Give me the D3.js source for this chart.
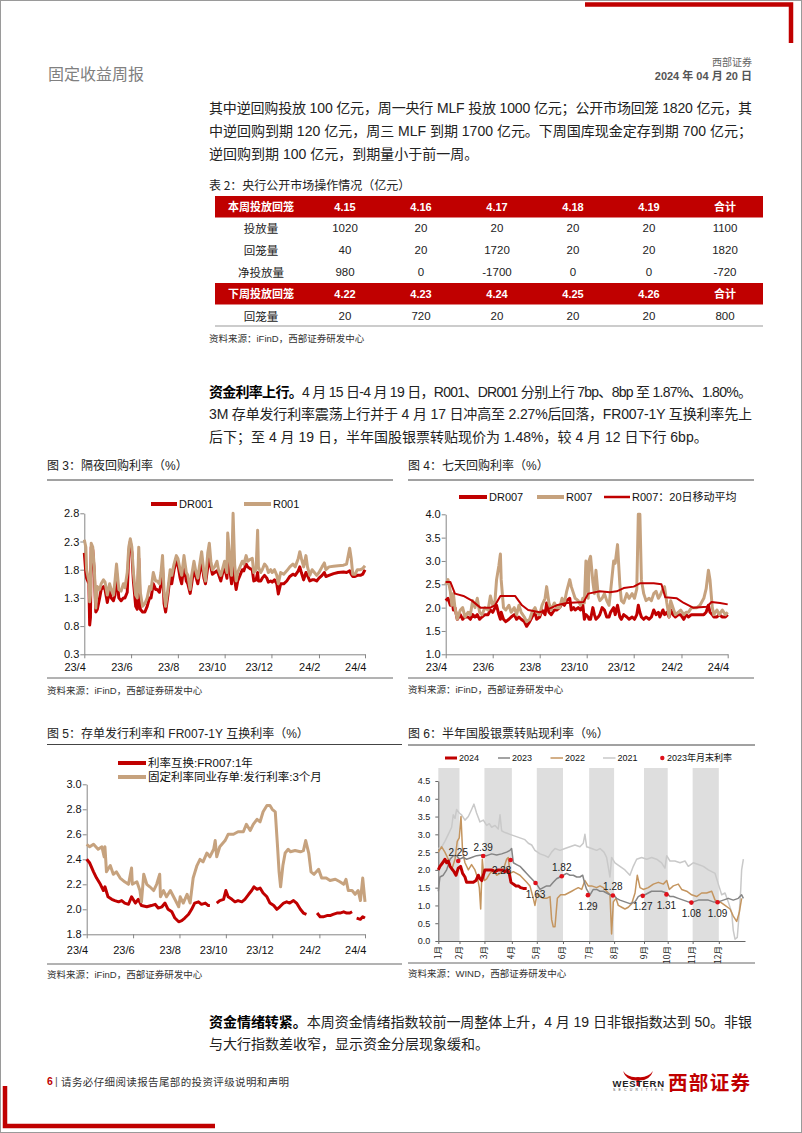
<!DOCTYPE html>
<html><head><meta charset="utf-8">
<script src="https://cdn.jsdelivr.net/npm/d3@7"></script>
<style>body{margin:0;background:#fff}svg{display:block}</style>
</head><body>
<svg id="page" width="802" height="1133"></svg>
<script>
// ---------------- DATA ----------------
const para1 = [
  "其中逆回购投放 100 亿元，周一央行 MLF 投放 1000 亿元；公开市场回笼 1820 亿元，其",
  "中逆回购到期 120 亿元，周三 MLF 到期 1700 亿元。下周国库现金定存到期 700 亿元；",
  "逆回购到期 100 亿元，到期量小于前一周。"
];
const para2 = [
  [{t:"资金利率上行。",b:true},{t:"4 月 15 日-4 月 19 日，R001、DR001 分别上行 7bp、8bp 至 1.87%、1.80%。"}],
  [{t:"3M 存单发行利率震荡上行并于 4 月 17 日冲高至 2.27%后回落，FR007-1Y 互换利率先上"}],
  [{t:"后下；至 4 月 19 日，半年国股银票转贴现价为 1.48%，较 4 月 12 日下行 6bp。"}]
];
const para3 = [
  [{t:"资金情绪转紧。",b:true},{t:"本周资金情绪指数较前一周整体上升，4 月 19 日非银指数达到 50。非银"}],
  [{t:"与大行指数差收窄，显示资金分层现象缓和。"}]
];
const tableTitle = "表 2：央行公开市场操作情况（亿元）";
const tableHead1 = ["本周投放回笼","4.15","4.16","4.17","4.18","4.19","合计"];
const tableRows1 = [
  ["投放量",1020,20,20,20,20,1100],
  ["回笼量",40,20,1720,20,20,1820],
  ["净投放量",980,0,-1700,0,0,-720]
];
const tableHead2 = ["下周投放回笼","4.22","4.23","4.24","4.25","4.26","合计"];
const tableRows2 = [["回笼量",20,720,20,20,20,800]];

// Charts 3-5: day offsets from 2023-04-19
const xTickDays = [0,61,122,183,244,306,366];
const xTickLabels = ["23/4","23/6","23/8","23/10","23/12","24/2","24/4"];

const r001 = [[0,2.33],[2,2.2],[3,1.8],[6,1.6],[7,1.23],[8,1.35],[9,2.27],[11,2.2],[13,1.85],[15,1.12],[17,1.5],[20,1.45],[22,1.55],[25,1.62],[27,1.58],[30,1.35],[33,1.55],[35,1.45],[38,1.35],[40,1.6],[42,1.9],[45,1.45],[48,1.42],[51,1.55],[53,1.48],[56,1.75],[58,2.2],[60,2.35],[62,2.2],[64,1.75],[67,1.35],[69,1.3],[71,2.2],[73,1.4],[76,1.15],[79,1.2],[82,1.3],[85,1.5],[87,1.45],[90,1.75],[93,1.6],[95,1.6],[98,1.55],[100,1.75],[102,2.05],[104,1.4],[106,1.15],[109,1.45],[112,1.8],[114,1.7],[117,1.9],[120,2.05],[122,2.0],[125,1.8],[127,1.7],[130,2.05],[133,1.75],[135,1.7],[138,1.45],[140,1.7],[143,1.95],[145,1.8],[148,1.65],[150,1.85],[153,2.12],[156,1.75],[158,1.6],[161,2.1],[163,2.27],[165,1.95],[167,1.8],[170,1.85],[173,1.95],[175,1.8],[178,1.7],[180,1.8],[183,1.95],[186,1.75],[187,2.45],[189,2.1],[192,1.7],[194,2.8],[196,1.9],[198,1.6],[200,1.75],[203,1.85],[206,1.95],[208,1.9],[211,2.05],[213,1.95],[216,1.98],[219,2.0],[221,1.75],[224,1.8],[226,2.5],[227,1.85],[230,1.75],[232,1.8],[235,1.9],[238,1.85],[240,1.75],[243,1.8],[245,1.75],[248,1.8],[251,1.7],[253,1.55],[256,1.75],[260,1.72],[264,1.78],[268,1.85],[272,1.9],[275,1.85],[279,2.0],[281,2.12],[283,2.0],[286,1.85],[289,2.05],[291,1.85],[294,1.7],[297,1.8],[300,1.75],[303,1.7],[306,1.75],[310,1.85],[313,1.92],[315,1.8],[319,1.85],[325,1.86],[331,1.87],[338,1.88],[342,1.9],[346,2.18],[348,2.0],[350,1.72],[353,1.72],[356,1.8],[360,1.8],[363,1.82],[366,1.87]];
const dr001 = [[0,2.1],[2,1.75],[3,1.65],[6,1.55],[7,0.82],[8,0.95],[9,2.2],[11,2.15],[13,1.75],[15,1.05],[17,1.1],[20,1.3],[22,1.45],[25,1.5],[27,1.45],[30,1.22],[33,1.45],[35,1.3],[38,1.25],[40,1.35],[42,1.75],[45,1.3],[48,1.25],[51,1.3],[53,1.3],[56,1.4],[58,2.1],[60,2.3],[62,2.1],[64,1.6],[67,1.15],[69,1.1],[71,2.0],[73,1.1],[76,1.05],[79,1.05],[82,1.15],[85,1.3],[87,1.3],[90,1.55],[93,1.45],[95,1.45],[98,1.4],[100,1.55],[102,1.85],[104,1.2],[106,1.05],[109,1.35],[112,1.7],[114,1.55],[117,1.8],[120,1.95],[122,1.9],[125,1.65],[127,1.55],[130,1.9],[133,1.6],[135,1.55],[138,1.38],[140,1.55],[143,1.85],[145,1.7],[148,1.55],[150,1.72],[153,1.95],[156,1.65],[158,1.55],[161,1.85],[163,2.0],[165,1.85],[167,1.72],[170,1.75],[173,1.78],[175,1.72],[178,1.6],[180,1.72],[183,1.85],[186,1.65],[187,2.0],[189,1.9],[192,1.55],[194,1.9],[196,1.62],[198,1.45],[200,1.6],[203,1.7],[206,1.8],[208,1.78],[211,1.9],[213,1.85],[216,1.82],[219,1.8],[221,1.6],[224,1.62],[226,1.75],[227,1.6],[230,1.6],[232,1.65],[235,1.7],[238,1.65],[240,1.58],[243,1.6],[245,1.58],[248,1.62],[251,1.55],[253,1.37],[256,1.55],[260,1.55],[264,1.6],[268,1.68],[272,1.72],[275,1.7],[279,1.78],[281,1.85],[283,1.75],[286,1.62],[289,1.75],[291,1.7],[294,1.6],[297,1.62],[300,1.62],[303,1.6],[306,1.65],[310,1.7],[313,1.75],[315,1.68],[319,1.7],[325,1.73],[331,1.75],[338,1.76],[342,1.75],[346,1.78],[348,1.72],[350,1.68],[353,1.68],[356,1.7],[360,1.7],[363,1.72],[366,1.8]];

const r007 = [[0,2.5],[3,2.6],[6,2.35],[8,2.05],[10,2.3],[12,2.0],[15,1.75],[19,1.95],[22,2.0],[25,1.8],[29,1.9],[32,1.85],[35,2.15],[38,2.0],[41,2.2],[44,1.9],[47,1.85],[51,2.0],[55,1.95],[58,2.25],[61,2.05],[64,2.15],[66,2.6],[69,2.9],[71,3.15],[72,2.6],[75,2.0],[78,1.95],[82,2.05],[85,1.9],[89,2.0],[92,1.85],[95,2.05],[98,1.9],[102,1.8],[105,1.7],[109,1.75],[112,1.9],[116,2.0],[118,1.9],[122,1.85],[125,2.05],[129,2.2],[131,2.45],[134,2.1],[137,1.95],[141,2.1],[144,2.0],[148,2.0],[151,2.2],[154,2.1],[157,2.35],[161,2.6],[163,2.45],[166,2.3],[168,2.2],[172,2.15],[175,2.05],[178,2.2],[180,2.1],[182,3.0],[185,2.2],[186,3.0],[188,3.1],[191,2.55],[193,2.3],[195,2.8],[198,2.25],[200,2.15],[203,2.2],[206,2.3],[209,2.15],[212,2.05],[214,2.35],[218,3.0],[220,2.95],[223,3.35],[226,2.5],[228,2.15],[231,2.1],[235,2.3],[238,2.2],[242,2.3],[245,2.2],[248,2.4],[250,4.0],[252,4.0],[254,2.6],[257,2.3],[260,2.15],[264,2.2],[267,2.15],[270,2.3],[273,2.35],[276,2.2],[278,2.25],[282,2.4],[284,2.45],[287,2.1],[290,1.8],[292,2.15],[295,2.0],[298,1.85],[302,1.9],[305,1.95],[309,1.85],[312,1.9],[315,1.9],[319,2.0],[322,2.0],[326,2.0],[330,2.05],[335,2.2],[338,2.4],[341,2.8],[343,2.6],[346,2.0],[348,1.85],[352,1.95],[355,1.85],[359,1.95],[363,1.85],[366,1.9]];
const dr007 = [[0,2.15],[3,2.2],[6,2.05],[8,2.2],[10,1.95],[12,2.0],[15,1.75],[19,1.85],[22,1.75],[25,1.8],[29,1.8],[32,1.75],[35,1.85],[38,1.8],[41,1.85],[44,1.75],[47,1.8],[51,1.85],[55,1.85],[58,1.95],[61,1.9],[64,2.0],[66,2.05],[69,1.85],[71,1.75],[72,1.9],[75,1.75],[78,1.7],[82,1.75],[85,1.8],[89,1.85],[92,1.75],[95,1.8],[98,1.75],[102,1.7],[105,1.6],[109,1.7],[112,1.8],[116,1.9],[118,1.75],[122,1.8],[125,1.95],[129,1.85],[131,2.1],[134,1.9],[137,1.85],[141,1.95],[144,1.95],[148,2.0],[151,2.1],[154,2.05],[157,2.15],[161,2.2],[163,1.95],[166,2.0],[168,1.95],[172,2.0],[175,1.95],[178,2.05],[180,1.75],[182,1.85],[185,1.8],[186,1.75],[188,1.75],[191,2.0],[193,1.85],[195,1.75],[198,1.8],[200,1.85],[203,2.0],[206,1.95],[209,1.8],[212,1.8],[214,1.9],[218,2.0],[220,1.85],[223,2.05],[226,1.8],[228,1.75],[231,1.85],[235,1.8],[238,1.75],[242,1.8],[245,1.75],[248,1.85],[250,2.05],[252,1.9],[254,1.8],[257,1.75],[260,1.8],[264,1.75],[267,1.8],[270,1.95],[273,1.85],[276,1.9],[278,1.8],[282,1.95],[284,1.85],[287,1.9],[290,1.8],[292,1.95],[295,1.85],[298,1.8],[302,1.85],[305,1.85],[309,1.75],[312,1.85],[315,1.8],[319,1.85],[322,1.85],[326,1.85],[330,1.85],[335,1.85],[338,1.9],[341,2.05],[343,1.9],[346,1.85],[348,1.8],[352,1.8],[355,1.85],[359,1.8],[363,1.8],[366,1.85]];
const r007ma20 = [[0,2.55],[6,2.55],[12,2.3],[23,2.25],[34,2.15],[45,2.0],[58,2.0],[64,2.05],[71,2.25],[90,2.25],[99,2.05],[107,1.95],[122,1.9],[131,1.95],[144,2.05],[157,2.1],[179,2.12],[185,2.3],[200,2.35],[213,2.33],[222,2.35],[231,2.42],[244,2.45],[252,2.52],[270,2.52],[280,2.5],[285,2.22],[300,2.2],[309,2.1],[321,2.0],[339,2.02],[345,2.12],[356,2.1],[366,2.07]];

const fr007_1y = [[0,2.4],[4,2.37],[9,2.3],[13,2.25],[18,2.2],[22,2.15],[24,2.18],[28,2.1],[33,2.08],[37,2.07],[42,2.06],[46,2.07],[50,2.05],[55,2.04],[59,2.1],[64,2.05],[68,2.08],[72,2.03],[79,2.02],[85,2.03],[90,2.04],[94,2.01],[99,2.02],[103,2.05],[107,2.0],[112,1.98],[116,1.93],[121,1.9],[125,1.91],[129,1.93],[134,1.96],[138,2.0],[142,2.05],[147,2.06],[151,2.04],[156,2.05],[160,2.03],[162,2.03],[166,null],[171,2.05],[175,2.07],[180,2.08],[183,2.15],[186,2.1],[191,2.08],[195,2.06],[199,2.07],[204,2.06],[208,2.08],[213,2.12],[217,2.15],[220,2.18],[224,2.16],[228,2.17],[232,2.13],[237,2.1],[241,2.05],[246,2.03],[250,2.0],[254,2.02],[259,2.05],[263,2.06],[267,2.05],[272,2.07],[276,2.05],[281,2.0],[285,1.97],[289,1.96],[296,null],[303,1.97],[307,1.94],[311,1.94],[316,1.95],[320,1.95],[324,1.96],[329,1.97],[333,1.97],[338,1.98],[342,1.97],[346,1.97],[349,1.98],[352,null],[355,1.93],[360,1.92],[363,1.94],[366,1.93]];
const cd3m = [[0,2.52],[4,2.5],[9,2.52],[15,2.48],[20,2.5],[23,2.42],[24,2.5],[26,2.3],[31,2.35],[35,2.28],[39,2.3],[44,2.25],[50,2.22],[55,2.2],[59,2.33],[60,2.2],[66,2.22],[70,2.15],[72,2.06],[75,2.28],[79,2.2],[83,2.18],[88,2.15],[92,2.2],[96,2.28],[97,2.1],[101,2.15],[105,2.1],[110,2.15],[116,2.08],[121,2.02],[123,2.1],[127,2.05],[132,2.12],[136,2.05],[140,2.25],[145,2.35],[149,2.4],[153,2.38],[158,2.45],[162,2.42],[167,2.48],[169,2.55],[171,2.42],[175,2.5],[182,2.55],[186,2.6],[193,2.6],[199,2.62],[206,2.62],[210,2.68],[215,2.63],[219,2.68],[224,2.72],[228,2.7],[232,2.78],[237,2.83],[241,2.83],[244,2.8],[248,2.78],[251,2.5],[253,2.3],[255,2.18],[258,2.35],[261,2.45],[265,2.48],[268,2.46],[274,2.47],[281,2.46],[285,2.47],[288,2.55],[292,2.45],[295,2.3],[299,2.28],[305,2.32],[309,2.25],[315,2.25],[320,2.23],[327,2.24],[333,2.22],[338,2.2],[341,2.24],[344,2.15],[349,2.15],[353,2.12],[357,2.15],[360,2.07],[363,2.25],[366,2.06]];

// Chart 6: trading-day index within year
const monthLabels = ["1月","2月","3月","4月","5月","6月","7月","8月","9月","10月","11月","12月"];
const monthTradingDays = [17,20,22,20,21,21,20,24,19,20,21,21];
const bill2021 = [[0,2.6],[2.7,2.65],[5.3,2.8],[8,3.0],[10.7,3.2],[12,3.55],[13.4,3.45],[14.7,3.7],[16.8,3.6],[18.7,3.55],[21.4,3.4],[24.1,3.5],[26.7,3.7],[28.6,3.85],[30.7,3.6],[33.4,3.35],[36.1,3.4],[38.8,3.25],[40.9,3.3],[42.8,3.2],[45.5,3.25],[48.1,3.15],[49.5,3.55],[50.8,3.1],[53.5,3.05],[57.5,3.0],[61.5,2.95],[65.5,2.9],[69.5,2.85],[72.2,2.75],[74.9,2.7],[77.5,2.55],[81.6,2.45],[85.6,2.4],[88.2,2.35],[90.9,2.5],[93.6,2.6],[97.6,2.55],[101.6,2.6],[105.6,2.65],[109.6,2.7],[113.6,2.65],[116.3,2.75],[117.6,3.0],[119,2.65],[123,2.6],[127,2.55],[129.7,2.6],[132.9,2.5],[135,2.35],[137.7,1.8],[139,2.35],[141.7,2.2],[145.7,2.1],[149.7,2.0],[153.7,1.85],[156.4,2.1],[159.1,2.3],[163.1,2.35],[167.1,2.3],[171.1,2.35],[175.1,2.3],[179.1,2.2],[181.8,2.05],[183.2,2.4],[185.8,2.25],[189.8,2.25],[193.9,2.2],[197.9,2.25],[200.5,2.1],[204.5,2.2],[208.6,2.15],[212.6,2.1],[216.6,2.0],[222,1.9],[224.6,1.6],[227.3,1.3],[230,1.35],[232.6,1.1],[235.3,0.8],[236.6,0.3],[238,0.05],[239.8,0.1],[241.4,0.8],[242.5,1.4],[243.3,2.0],[244.7,2.3]];
const bill2022 = [[0,2.5],[2.7,2.65],[5.3,2.5],[8,2.3],[10.7,2.0],[13.4,2.3],[15.2,2.8],[16.8,2.9],[18.2,3.5],[19.5,2.5],[21.4,2.2],[24.1,2.0],[26.7,2.15],[29.4,2.0],[31.3,1.8],[32.9,1.5],[34,0.9],[35.3,2.3],[36.9,1.7],[38.8,1.75],[41.4,1.9],[44.1,2.0],[46.8,1.85],[49.5,1.9],[52.1,2.0],[54.8,2.3],[56.1,2.35],[57.5,1.9],[60.2,1.95],[62.8,1.9],[65.5,1.85],[68.2,1.75],[70.9,1.65],[73.5,1.55],[76.2,1.2],[77.5,1.0],[79.4,1.35],[81.6,1.25],[84.2,1.2],[86.9,1.2],[89.6,1.25],[90.9,0.6],[92.2,0.4],[93.6,0.4],[95.5,1.2],[98.1,1.3],[101.6,1.3],[104.3,1.35],[107,1.4],[109.6,1.45],[112.3,1.5],[115,1.45],[117.6,1.7],[120.3,1.55],[123,1.55],[127,1.5],[129.7,1.55],[132.4,1.5],[135,1.4],[137.7,1.3],[139,0.2],[140.4,1.1],[142.5,1.2],[144.4,1.0],[147.1,0.95],[149.7,0.9],[152.4,0.95],[155.1,1.05],[157.8,1.35],[159.6,1.85],[161.8,1.5],[164.4,1.45],[168.4,1.5],[172.5,1.6],[176.5,1.65],[180.5,1.6],[183.2,1.7],[185.3,1.45],[188.5,1.55],[192.5,1.6],[195.2,1.45],[199.2,1.4],[203.2,1.3],[207.2,1.25],[211.2,1.35],[215.2,1.35],[219.3,1.4],[222,1.15],[226,1.1],[230,1.0],[234,0.9],[236.6,0.7],[239.3,0.55],[241.4,0.8],[243.3,1.2]];
const bill2023 = [[0,1.4],[1.3,1.8],[4,1.85],[6.7,2.0],[9.4,2.3],[12,2.4],[14.7,2.4],[16.8,2.3],[20,2.35],[22.7,2.3],[26.7,2.35],[30.7,2.4],[34.8,2.42],[38.8,2.4],[42.8,2.45],[46.8,2.42],[50.8,2.45],[54.8,2.5],[57.5,2.55],[58.8,2.6],[60.2,2.2],[62.8,2.15],[65.5,2.1],[68.2,2.0],[70.9,1.9],[73.5,1.8],[76.2,1.7],[78.9,1.6],[81.6,1.45],[84.2,1.5],[86.9,1.55],[89.6,1.55],[92.2,1.65],[94.9,1.75],[97.6,1.8],[100.3,1.85],[102.9,1.9],[105.6,1.85],[108.3,1.85],[111,1.8],[113.6,1.8],[115.8,1.85],[117.6,1.6],[119,1.45],[121.7,1.3],[124.3,1.45],[127,1.45],[129.7,1.4],[132.4,1.4],[135,1.35],[137.7,1.3],[140.4,1.3],[143,1.2],[145.7,1.15],[149.7,1.1],[153.7,1.05],[157.8,1.1],[160.4,1.25],[163.1,1.3],[165.8,1.3],[168.4,1.35],[171.1,1.4],[175.1,1.4],[179.1,1.4],[183.2,1.35],[185.8,1.25],[188.5,1.25],[192.5,1.2],[196.5,1.15],[200.5,1.1],[204.5,1.1],[208.6,1.15],[212.6,1.15],[216.6,1.15],[220.6,1.1],[224.6,1.1],[228.6,1.15],[232.6,1.2],[236.6,1.15],[240.6,1.2],[243.3,1.3],[244.7,1.2]];
const bill2024 = [[0,2.0],[1.3,2.1],[3.5,2.2],[5.3,2.3],[6.7,2.2],[8,2.25],[9.4,2.1],[11.5,2.0],[12.6,1.95],[14.2,1.85],[16,2.05],[17.9,2.1],[19.5,1.9],[21.4,1.8],[22.7,1.65],[25.4,1.65],[28.1,1.65],[30.2,1.7],[32.1,1.85],[33.4,1.75],[34.8,1.7],[36.1,1.85],[37.4,2.0],[40.1,2.0],[42.8,2.0],[45.5,1.95],[48.1,2.0],[50.8,2.0],[53.5,1.95],[55.3,2.0],[56.9,1.9],[58.3,1.65],[60.2,1.6],[62.3,1.55],[64.2,1.55],[66,1.5],[68.2,1.48],[70.9,1.48]];
const monthEnd2023 = [2.25,2.39,2.28,1.63,1.82,1.29,1.28,1.27,1.31,1.08,1.09];

// ---------------- DRAW ----------------
const svg = d3.select("#page");
const RED = "#c00000", TAN = "#c6a27e";
const F = "'Liberation Sans','Noto Sans CJK SC',sans-serif";
const FC = "'Noto Sans CJK SC','Liberation Sans',sans-serif";

function txt(parent, x, y, s, o = {}) {
  const t = parent.append("text").attr("x", x).attr("y", y)
    .attr("dominant-baseline", "central")
    .attr("font-family", o.ff || F).attr("font-size", o.fs || 12)
    .attr("fill", o.fill || "#333").attr("text-anchor", o.anchor || "start");
  if (o.bold) t.attr("font-weight", "bold");
  if (o.len) t.attr("textLength", o.len).attr("lengthAdjust", "spacing");
  if (Array.isArray(s)) s.forEach(p => { const ts = t.append("tspan").text(p.t); if (p.b) ts.attr("font-weight", "bold").attr("fill", o.boldFill || "#000"); });
  else t.text(s);
  return t;
}

// page frame and decorations
svg.append("rect").attr("x", 0.5).attr("y", 0.5).attr("width", 801).attr("height", 1132)
  .attr("fill", "none").attr("stroke", "#9a9a9a");
svg.append("path").attr("d", "M585,4.5H791V43").attr("fill", "none").attr("stroke", RED).attr("stroke-width", 4.5);
svg.append("path").attr("d", "M5,1086V1126H215").attr("fill", "none").attr("stroke", RED).attr("stroke-width", 4.5);

// header
txt(svg, 48, 73, "固定收益周报", {fs: 16, fill: "#808080", ff: FC});
txt(svg, 752, 61, "西部证券", {fs: 10, fill: "#666", anchor: "end", ff: FC});
txt(svg, 752, 76, "2024 年 04 月 20 日", {fs: 11, fill: "#555", anchor: "end", bold: true});

// paragraph 1
const p1y = [108, 131, 154];
para1.forEach((l, i) => txt(svg, 209, p1y[i], l, {fs: 14, fill: "#222", len: i < 2 ? 543 : null}));

// table
txt(svg, 209, 184, tableTitle, {fs: 12, fill: "#222", ff: FC});
const colX = [261, 345, 421, 497, 573, 649, 725];
function headRow(y, cells) {
  svg.append("rect").attr("x", 215).attr("y", y - 10.5).attr("width", 548).attr("height", 21.5).attr("fill", RED);
  cells.forEach((c, i) => txt(svg, colX[i], y, c, {fs: 11, fill: "#fff", bold: true, anchor: "middle"}));
}
function bodyRow(y, cells) {
  cells.forEach((c, i) => txt(svg, colX[i], y, String(c), {fs: 11.5, fill: "#222", anchor: "middle", ff: i === 0 ? FC : F}));
}
headRow(206.5, tableHead1);
[228, 250, 271.5].forEach((y, i) => bodyRow(y, tableRows1[i]));
headRow(293.5, tableHead2);
bodyRow(316, tableRows2[0]);
svg.append("line").attr("x1", 215).attr("x2", 763).attr("y1", 326).attr("y2", 326).attr("stroke", "#999");
txt(svg, 209, 338, "资料来源：iFinD，西部证券研发中心", {fs: 9.5, fill: "#333"});

// paragraph 2
const p2y = [392, 414, 437];
para2.forEach((l, i) => txt(svg, 209, p2y[i], l, {fs: 14, fill: "#222", len: i < 2 ? 543 : null}));

// ---- chart helpers ----
function dayDate(d) { return new Date(2023, 3, 19 + d); }
function frame(x0, x1, titleY, lineY, bottomY, srcY, title, src) {
  txt(svg, x0, titleY, title, {fs: 12, fill: "#222"});
  svg.append("line").attr("x1", x0).attr("x2", x1).attr("y1", lineY).attr("y2", lineY).attr("stroke", "#444");
  svg.append("line").attr("x1", x0).attr("x2", x1).attr("y1", bottomY).attr("y2", bottomY).attr("stroke", "#666");
  txt(svg, x0, srcY, src, {fs: 9.5, fill: "#333"});
}
function timeChart(c) {
  const g = svg.append("g");
  const x = d3.scaleTime().domain([dayDate(0), dayDate(366)]).range([c.x0, c.x1]);
  const y = d3.scaleLinear().domain(c.yDom).range([c.y0, c.y1]);
  const ya = g.append("g").attr("transform", `translate(${c.x0},0)`)
    .call(d3.axisLeft(y).tickValues(c.yTicks).tickFormat(d3.format(".1f")).tickSize(4).tickSizeOuter(0));
  const xa = g.append("g").attr("transform", `translate(0,${c.y0})`)
    .call(d3.axisBottom(x).tickValues(xTickDays.map(dayDate)).tickFormat((d, i) => xTickLabels[i]).tickSize(4).tickSizeOuter(0));
  [ya, xa].forEach(a => {
    a.select(".domain").attr("stroke", "#868686");
    a.selectAll(".tick line").attr("stroke", "#868686");
    a.selectAll("text").attr("font-family", F).attr("font-size", 11).attr("fill", "#111");
  });
  ya.selectAll("text").attr("x", -5);
  xa.selectAll("text").attr("text-anchor", "end").attr("x", 1).attr("y", c.xLabDy).attr("dy", 0)
    .attr("dominant-baseline", "central");
  const line = d3.line().defined(d => d[1] != null).x(d => x(dayDate(d[0]))).y(d => y(d[1]));
  c.series.forEach(s => {
    g.append("path").datum(s.data).attr("d", line).attr("fill", "none")
      .attr("stroke", s.color).attr("stroke-width", s.w).attr("stroke-linejoin", "round");
  });
  return g;
}
function legendItem(x, y, w, color, sw, label, fs, ff) {
  svg.append("line").attr("x1", x).attr("x2", x + w).attr("y1", y).attr("y2", y)
    .attr("stroke", color).attr("stroke-width", sw);
  txt(svg, x + w + 2, y, label, {fs: fs, fill: "#111", ff: ff || F});
}

// ---- chart 3 ----
frame(47, 393, 466, 480, 678, 690, "图 3：隔夜回购利率（%）", "资料来源：iFinD，西部证券研发中心");
timeChart({x0: 84.3, x1: 365, y0: 654.3, y1: 513.3, yDom: [0.3, 2.8], yTicks: [0.3, 0.8, 1.3, 1.8, 2.3, 2.8], xLabDy: 12.5,
  series: [{data: dr001, color: RED, w: 3}, {data: r001, color: TAN, w: 3}]});
legendItem(151, 504, 26, RED, 4, "DR001", 11);
legendItem(244, 504, 27, TAN, 4, "R001", 11);

// ---- chart 4 ----
frame(408, 754, 466, 480, 678, 689, "图 4：七天回购利率（%）", "资料来源：iFinD，西部证券研发中心");
timeChart({x0: 445.7, x1: 727.7, y0: 654.3, y1: 514.3, yDom: [1.0, 4.0], yTicks: [1.0, 1.5, 2.0, 2.5, 3.0, 3.5, 4.0], xLabDy: 12.5,
  series: [{data: dr007, color: RED, w: 3}, {data: r007, color: TAN, w: 3}, {data: r007ma20, color: RED, w: 2}]});
legendItem(459, 497, 28, RED, 4, "DR007", 11);
legendItem(537, 497, 27, TAN, 4, "R007", 11);
legendItem(604, 497, 26, RED, 2.5, "R007：20日移动平均", 11);

// ---- chart 5 ----
frame(47, 402, 734, 744.5, 964, 974.5, "图 5：存单发行利率和 FR007-1Y 互换利率（%）", "资料来源：iFinD，西部证券研发中心");
timeChart({x0: 86.7, x1: 365, y0: 934.3, y1: 784.3, yDom: [1.8, 3.0], yTicks: [1.8, 2.0, 2.2, 2.4, 2.6, 2.8, 3.0], xLabDy: 15.5,
  series: [{data: fr007_1y, color: RED, w: 3}, {data: cd3m, color: TAN, w: 3}]});
legendItem(118, 763, 28, RED, 4, "利率互换:FR007:1年", 11.5);
legendItem(118, 777, 28, TAN, 4, "固定利率同业存单:发行利率:3个月", 11.5);

// ---- chart 6 ----
frame(408, 755, 734, 745, 963, 973.5, "图 6：半年国股银票转贴现利率（%）", "资料来源：WIND，西部证券研发中心");
(function () {
  const g = svg.append("g");
  const starts = [0];
  monthTradingDays.forEach((n, i) => starts.push(starts[i] + n));
  const total = starts[12];
  const x = d3.scaleLinear().domain([0, total]).range([438.3, 745]);
  const y = d3.scaleLinear().domain([0, 4.5]).range([941, 781]);
  for (let m = 0; m < 12; m += 2) {
    g.append("rect").attr("x", x(starts[m])).attr("y", 768).attr("width", x(starts[m + 1]) - x(starts[m]))
      .attr("height", 941 - 768).attr("fill", "#dedede");
  }
  const ya = g.append("g").attr("transform", "translate(438.3,0)")
    .call(d3.axisLeft(y).tickValues(d3.range(0, 4.51, 0.5)).tickFormat(d3.format(".1f")).tickSize(3).tickSizeOuter(0));
  ya.select(".domain").attr("stroke", "#666");
  ya.selectAll(".tick line").attr("stroke", "#666");
  ya.selectAll("text").attr("font-family", F).attr("font-size", 9).attr("fill", "#222").attr("x", -8);
  const xa = g.append("g").attr("transform", "translate(0,941)")
    .call(d3.axisBottom(x).tickValues(starts.slice(0, 12)).tickFormat((d, i) => monthLabels[i]).tickSize(3).tickSizeOuter(0));
  xa.select(".domain").attr("stroke", "#666");
  xa.selectAll(".tick line").attr("stroke", "#666");
  xa.selectAll("text").attr("font-family", FC).attr("font-size", 8.5).attr("fill", "#222")
    .attr("transform", "rotate(-90)").attr("text-anchor", "end").attr("x", -5).attr("y", -2).attr("dy", 0)
    .attr("dominant-baseline", "central");
  const line = d3.line().x(d => x(d[0])).y(d => y(d[1]));
  [[bill2021, "#c9c9c9", 1.5], [bill2022, "#c4955f", 1.5], [bill2023, "#858585", 1.5], [bill2024, RED, 3]].forEach(s => {
    g.append("path").datum(s[0]).attr("d", line).attr("fill", "none").attr("stroke", s[1]).attr("stroke-width", s[2]).attr("stroke-linejoin", "round");
  });
  const place = ["up", "up", "downleft", "down", "up", "down", "up", "down", "down", "down", "down"];
  monthEnd2023.forEach((v, i) => {
    const cx = x(starts[i + 1] - 1), cy = y(v);
    g.append("circle").attr("cx", cx).attr("cy", cy).attr("r", 2.3).attr("fill", "#e0101a");
    let lx = cx, ly = cy - 9;
    if (place[i] === "down") ly = cy + 11;
    if (place[i] === "downleft") { lx = cx - 9; ly = cy + 11; }
    txt(g, lx, ly, v.toFixed(2), {fs: 10, fill: "#222", anchor: "middle"});
  });
  legendItem(445, 758, 12, RED, 3, "2024", 9);
  legendItem(498, 758, 12, "#858585", 1.5, "2023", 9);
  legendItem(550.5, 758, 12.5, "#c4955f", 1.5, "2022", 9);
  legendItem(603, 758, 12.5, "#c9c9c9", 1.5, "2021", 9);
  svg.append("circle").attr("cx", 662.3).attr("cy", 758).attr("r", 2.2).attr("fill", "#e0101a");
  txt(svg, 667, 758, "2023年月末利率", {fs: 9, fill: "#111"});
})();

// paragraph 3
const p3y = [1022, 1044];
para3.forEach((l, i) => txt(svg, 209, p3y[i], l, {fs: 14, fill: "#222", len: i < 1 ? 543 : null}));

// footer
txt(svg, 47, 1081, [{t: "6", b: true}], {fs: 10.5, fill: RED, boldFill: RED});
txt(svg, 55, 1081, "|", {fs: 10.5, fill: "#555"});
txt(svg, 61, 1081, "请务必仔细阅读报告尾部的投资评级说明和声明", {fs: 10.5, fill: "#333", ff: FC, len: 228});
// logo
svg.append("path").attr("d", "M623,1071 Q628,1078 638,1077 Q648,1078 653,1071 Q650,1081 638,1080.5 Q626,1081 623,1071Z").attr("fill", RED);
svg.append("rect").attr("x", 636.5).attr("y", 1078).attr("width", 3).attr("height", 8).attr("fill", RED);
txt(svg, 612.5, 1083.5, "WESTERN", {fs: 9.5, fill: "#222", bold: true, len: 51.5});
txt(svg, 613, 1090, "SECURITIES", {fs: 3.5, fill: "#444", len: 50});
txt(svg, 668, 1081.5, "西部证券", {fs: 19.5, fill: RED, bold: true, ff: FC, len: 82});
</script>
</body></html>
